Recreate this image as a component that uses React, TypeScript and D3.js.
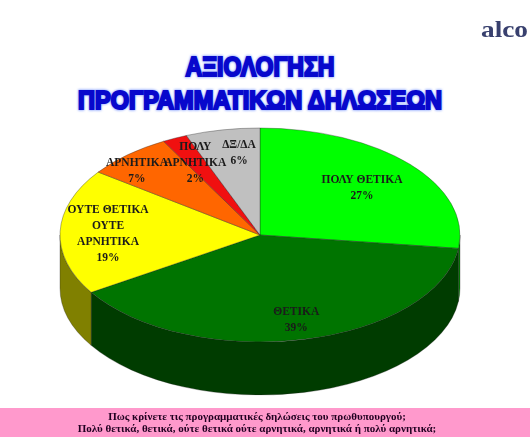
import React from "react";
import * as d3 from "d3";

// share of answers per slice, clockwise from 12 o'clock
const labels = [
  ["ΠΟΛΥ ΘΕΤΙΚΑ"],
  ["ΘΕΤΙΚΑ"],
  ["ΟΥΤΕ ΘΕΤΙΚΑ", "ΟΥΤΕ", "ΑΡΝΗΤΙΚΑ"],
  ["ΑΡΝΗΤΙΚΑ"],
  ["ΠΟΛΥ", "ΑΡΝΗΤΙΚΑ"],
  ["ΔΞ/ΔΑ"],
];
const values = [27, 39, 19, 7, 2, 6];
const topColors = ["#00ff00", "#007400", "#ffff00", "#ff6600", "#f01010", "#c0c0c0"];
const sideColors = ["#008000", "#003c00", "#808000", "#803300", "#800000", "#606060"];
// how far out along the slice's middle the label sits, across and down
const labelReachX = [0.68, 0.83, 0.76, 0.93, 0.76, 0.56];
const labelReachY = [0.68, 0.8, 0.65, 0.81, 0.75, 0.79];

const titleLines = ["ΑΞΙΟΛΟΓΗΣΗ", "ΠΡΟΓΡΑΜΜΑΤΙΚΩΝ ΔΗΛΩΣΕΩΝ"];
const questionLines = [
  "Πως κρίνετε τις προγραμματικές δηλώσεις του πρωθυπουργού;",
  "Πολύ θετικά, θετικά, ούτε θετικά ούτε αρνητικά, αρνητικά ή πολύ αρνητικά;",
];

const width = 530;
const height = 438;
const cx = 260;
const cy = 235;
const rx = 200;
const ry = 107;
const depth = 53;

const slices = d3.pie<number>().sort(null)(values);
const unitArc = d3.arc<d3.PieArcDatum<number>>().innerRadius(0).outerRadius(1);

// angle measured clockwise from the top, as d3.pie gives it
const ex = d3.scaleLinear().domain([-1, 1]).range([cx - rx, cx + rx]);
const ey = d3.scaleLinear().domain([-1, 1]).range([cy - ry, cy + ry]);

function wallPath(start: number, end: number) {
  const a0 = Math.max(start, Math.PI / 2);
  const a1 = Math.min(end, (3 * Math.PI) / 2);
  if (a1 <= a0) return null;
  const x0 = ex(Math.sin(a0));
  const y0 = ey(-Math.cos(a0));
  const x1 = ex(Math.sin(a1));
  const y1 = ey(-Math.cos(a1));
  return (
    `M${x0},${y0} A${rx},${ry} 0 0 1 ${x1},${y1} ` +
    `L${x1},${y1 + depth} A${rx},${ry} 0 0 0 ${x0},${y0 + depth} Z`
  );
}

export default function App() {
  return (
    <svg
      width={width}
      height={height}
      style={{ position: "absolute", left: 0, top: 0, background: "#fff" }}
    >
      <defs>
        <filter id="soft" x="-5%" y="-20%" width="110%" height="140%">
          <feGaussianBlur stdDeviation="0.4" />
        </filter>
        <filter id="glow" x="-5%" y="-20%" width="110%" height="140%">
          <feGaussianBlur stdDeviation="1.2" />
        </filter>
      </defs>

      <text
        x={481}
        y={37}
        fontFamily="'Liberation Serif', serif"
        fontWeight="bold"
        fontSize={23}
        textLength={47}
        lengthAdjust="spacingAndGlyphs"
        fill="#38406e"
        filter="url(#soft)"
      >
        alco
      </text>

      {/* title, light halo under the heavy blue letters */}
      {titleLines.map((line, i) => (
        <g
          key={line}
          fontFamily="'Liberation Sans', sans-serif"
          fontWeight="bold"
          textAnchor="middle"
        >
          <text
            x={260}
            y={i === 0 ? 75.5 : 108.5}
            fontSize={i === 0 ? 28 : 26}
            textLength={i === 0 ? 149 : 364}
            lengthAdjust="spacingAndGlyphs"
            fill="#8fa8ff"
            stroke="#8fa8ff"
            strokeWidth={3}
            filter="url(#glow)"
          >
            {line}
          </text>
          <text
            x={260}
            y={i === 0 ? 75.5 : 108.5}
            fontSize={i === 0 ? 28 : 26}
            textLength={i === 0 ? 149 : 364}
            lengthAdjust="spacingAndGlyphs"
            fill="#0808cc"
            stroke="#0808cc"
            strokeWidth={2.2}
          >
            {line}
          </text>
        </g>
      ))}

      {/* side wall first, then the top of the pie */}
      <g stroke="#1a1a1a" strokeOpacity={0.6} strokeWidth={0.5}>
        {slices.map((s, i) => {
          const d = wallPath(s.startAngle, s.endAngle);
          return d ? <path key={i} d={d} fill={sideColors[i]} /> : null;
        })}
      </g>
      <g transform={`translate(${cx},${cy}) scale(${rx},${ry})`}>
        {slices.map((s, i) => (
          <path
            key={i}
            d={unitArc(s) as string}
            fill={topColors[i]}
            stroke="#222"
            strokeOpacity={0.7}
            strokeWidth={0.5}
            vectorEffect="non-scaling-stroke"
          />
        ))}
      </g>

      <g
        fontFamily="'Liberation Serif', serif"
        fontWeight="bold"
        fontSize={11.5}
        fill="#1a1a1a"
        textAnchor="middle"
        filter="url(#soft)"
      >
        {slices.map((s, i) => {
          const mid = (s.startAngle + s.endAngle) / 2;
          const x = ex(labelReachX[i] * Math.sin(mid));
          const y = ey(-labelReachY[i] * Math.cos(mid));
          const lines = [...labels[i], `${values[i]}%`];
          const top = y - ((lines.length - 1) * 16) / 2 + 4;
          return (
            <text key={i} x={x} y={top}>
              {lines.map((t, j) => (
                <tspan key={j} x={x} y={top + j * 16}>
                  {t}
                </tspan>
              ))}
            </text>
          );
        })}
      </g>

      <rect x={0} y={408} width={width} height={29} fill="#ff99cc" />
      <g
        fontFamily="'Liberation Serif', serif"
        fontWeight="bold"
        fontSize={11}
        fill="#200020"
        textAnchor="middle"
        filter="url(#soft)"
      >
        {questionLines.map((line, i) => (
          <text key={line} x={257} y={420 + i * 11.5}>
            {line}
          </text>
        ))}
      </g>
    </svg>
  );
}
